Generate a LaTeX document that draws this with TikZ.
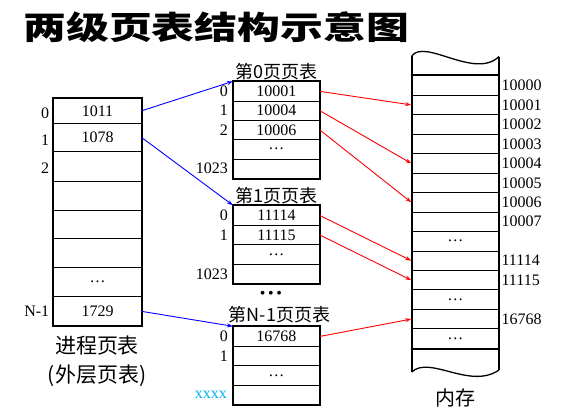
\documentclass[tikz,border=0pt]{standalone}
\usepackage{fontspec}
\setmainfont{Liberation Serif}
\newfontfamily\cjk{Noto Sans CJK SC}
\usetikzlibrary{positioning,arrows.meta}

\newcommand\numsize{\fontsize{16}{16}\selectfont}
\newcommand\capsize{\cjk\fontsize{18}{18}\selectfont}

\tikzset{
  cell/.style={draw, line width=0.8pt, inner sep=0pt, font=\numsize},
  idx/.style={anchor=east, inner sep=0pt, font=\numsize},
  addr/.style={anchor=west, inner sep=0pt, font=\numsize},
  frame/.style={line width=2pt},
  dirlink/.style={blue, line width=0.9pt, -{Stealth[length=6pt,width=4pt]}},
  memlink/.style={red, line width=0.9pt, -{Stealth[length=6pt,width=4pt]}},
  caption/.style={inner sep=0pt, font=\capsize}
}

\begin{document}
\begin{tikzpicture}[x=1pt,y=-1pt]
    \useasboundingbox (0,0) rectangle (576,416);

    % Titre
    \node[inner sep=0pt, anchor=west, xscale=1.34, font=\cjk\bfseries\fontsize{32}{32}\selectfont] (title) at (23,27) {两级页表结构示意图};

    % Page table externe
    \foreach \i/\top/\bot/\val in {0/98.3/123.3/1011, 1/123.3/151.7/1078, 2/151.7/181/{}, 3/181/210/{},
                                   4/210/238.7/{}, 5/238.7/267.7/{}, 6/267.7/296.7/…, 7/296.7/326/1729}{
        \pgfmathsetmacro{\h}{\bot-\top}
        \node[cell, minimum width=87.5pt, minimum height=\h pt] (o\i) at (97.5,{(\top+\bot)/2}) {\val};
    }
    \draw[frame] (o0.north west) rectangle (o7.south east);
    \node[idx] at ([xshift=-4pt,yshift=-2pt]o0.west) {0};
    \node[idx] at ([xshift=-4pt,yshift=-3pt]o1.west) {1};
    \node[idx] at ([xshift=-4pt,yshift=-2pt]o2.west) {2};
    \node[idx] at ([xshift=-4pt]o7.west) {N-1};
    \node[caption, font=\cjk\fontsize{21}{21}\selectfont] (outlabel) at (97,346) {进程页表};
    \node[caption, font=\cjk\fontsize{21}{21}\selectfont, below=9pt of outlabel] {(外层页表)};

    % Page 0
    \foreach \i/\val/\lab in {0/10001/0, 1/10004/1, 2/10006/2, 3/…/{}, 4/{}/1023}{
        \node[cell, minimum width=86pt, minimum height=19.3pt] (ta\i) at (276.4,{81.7+19.3*(\i+0.5)}) {\val};
        \node[idx] at ([xshift=-5pt]ta\i.west) {\lab};
    }
    \draw[frame] (ta0.north west) rectangle (ta4.south east);
    \node[caption] at (276.5,72) {第0页页表};

    % Page 1
    \foreach \i/\val/\lab in {0/11114/0, 1/11115/1, 2/…/{}, 3/{}/1023}{
        \node[cell, minimum width=86pt, minimum height=19.5pt] (tb\i) at (276.4,{205.7+19.5*(\i+0.5)}) {\val};
        \node[idx] at ([xshift=-5pt]tb\i.west) {\lab};
    }
    \draw[frame] (tb0.north west) rectangle (tb3.south east);
    \node[caption] at (276.5,196) {第1页页表};

    \node[inner sep=0pt, font=\fontsize{16}{16}\selectfont] (more) at (271,295) {\textbullet\,\textbullet\,\textbullet};

    % Page N-1
    \foreach \i/\val/\lab in {0/16768/0, 1/{}/1, 2/…/{}, 3/{}/{}}{
        \node[cell, minimum width=86pt, minimum height=19.5pt] (tc\i) at (276.4,{326.7+19.5*(\i+0.5)}) {\val};
        \node[idx] at ([xshift=-5pt]tc\i.west) {\lab};
    }
    \draw[frame] (tc0.north west) rectangle (tc3.south east);
    \node[caption] at (279.5,315) {第N-1页页表};
    \node[idx, text={rgb,255:red,0;green,176;blue,240}] at ([xshift=-6pt]tc3.west) {xxxx};

    % Memoire
    \foreach \k/\val in {0/{}, 1/{}, 2/{}, 3/{}, 4/{}, 5/{}, 6/{}, 7/{}, 8/…, 9/{}, 10/{}, 11/…, 12/{}, 13/…}{
        \node[cell, minimum width=87.3pt, minimum height=19.47pt] (m\k) at (455.3,{75.7+19.47*(\k+0.5)}) {\val};
    }
    \foreach \k/\a in {0/10000, 1/10001, 2/10002, 3/10003, 4/10004, 5/10005, 6/10006, 7/10007,
                       9/11114, 10/11115, 12/16768}{
        \node[addr] at ([xshift=2pt]m\k.east) {\a};
    }
    \coordinate (wtl) at (411.7,56);
    \coordinate (wtr) at (499,56.5);
    \coordinate (wbl) at (411.7,372);
    \coordinate (wbr) at (499,370);
    \draw[frame] (m0.north west) -- (m0.north east);
    \draw[frame] (m13.south west) -- (m13.south east);
    \draw[frame] (wtl) -- (wbl);
    \draw[frame] (wtr) -- (wbr);
    \draw[line width=1.3pt] (wtl) .. controls (425,38) and (475,80) .. (wtr);
    \draw[line width=1.3pt] (wbl) .. controls (430,355) and (470,390) .. (wbr);
    \node[caption, font=\cjk\fontsize{20}{20}\selectfont] (memlabel) at (455,398) {内存};

    % Liens
    \draw[dirlink] (o0.east) -- (ta0.north west);
    \draw[dirlink] (o1.east) -- (tb0.north west);
    \draw[dirlink] (o7.east) -- (tc0.north west);
    \draw[memlink] (ta0.east) -- (m1.west);
    \draw[memlink] (ta1.east) -- (m4.west);
    \draw[memlink] (ta2.east) -- (m6.west);
    \draw[memlink] (tb0.east) -- (m9.west);
    \draw[memlink] (tb1.east) -- (m10.west);
    \draw[memlink] (tc0.east) -- (m12.west);
\end{tikzpicture}
\end{document}
